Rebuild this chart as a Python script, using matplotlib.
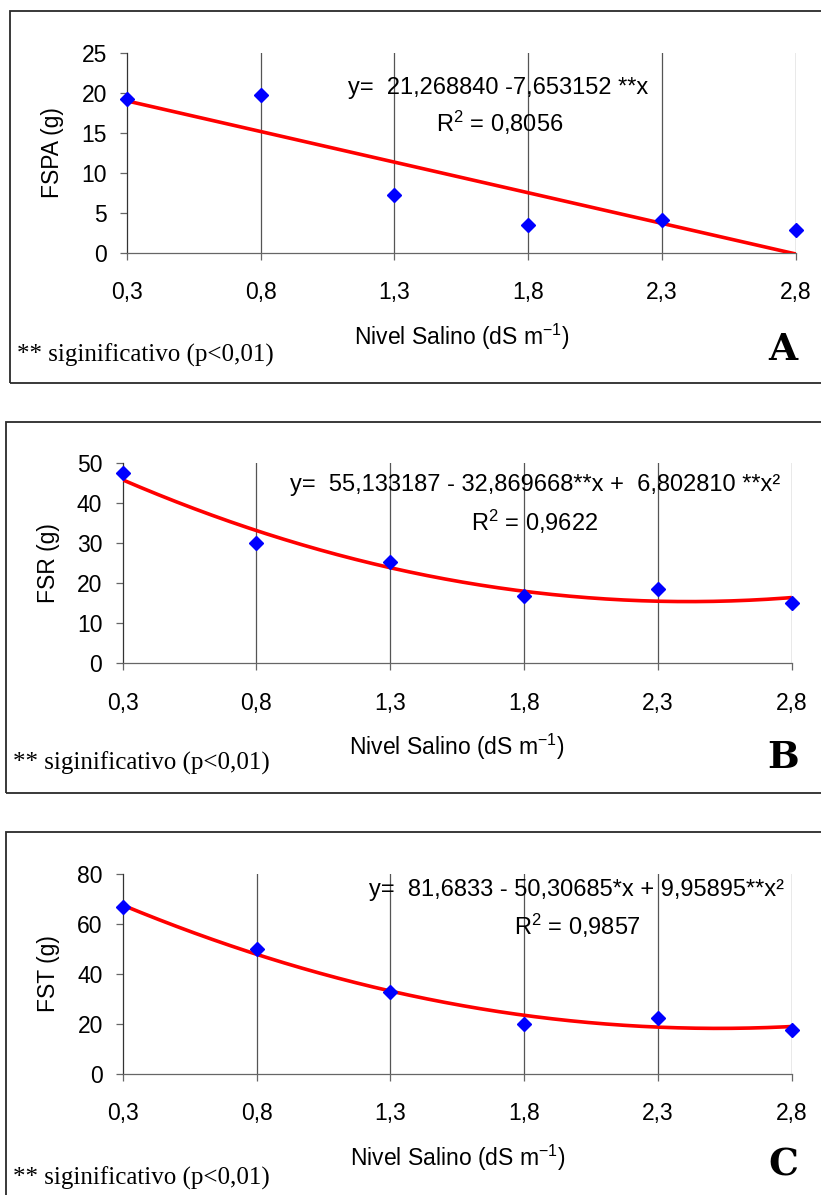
import numpy as np
import matplotlib
matplotlib.use("Agg")
import matplotlib.pyplot as plt
from matplotlib.patches import Rectangle

plt.rcParams['font.family'] = ['Liberation Sans', 'DejaVu Sans']
plt.rcParams['mathtext.fontset'] = 'custom'
plt.rcParams['mathtext.rm'] = 'Liberation Sans'
plt.rcParams['mathtext.it'] = 'Liberation Sans:italic'
plt.rcParams['mathtext.default'] = 'regular'

# ---------------- data ----------------
salinity = [0.3, 0.8, 1.3, 1.8, 2.3, 2.8]
x_tick_labels = ['0,3', '0,8', '1,3', '1,8', '2,3', '2,8']

fspa = [19.2, 19.7, 7.2, 3.5, 4.1, 2.8]
fsr = [47.5, 30.0, 25.4, 16.8, 18.5, 15.0]
fst = [66.9, 49.9, 32.7, 20.0, 22.3, 17.6]

coef_a = [21.268840, -7.653152]
coef_b = [55.133187, -32.869668, 6.802810]
coef_c = [81.6833, -50.30685, 9.95895]

yticks_a = [0, 5, 10, 15, 20, 25]
yticks_b = [0, 10, 20, 30, 40, 50]
yticks_c = [0, 20, 40, 60, 80]

ylabels = ['FSPA (g)', 'FSR (g)', 'FST (g)']
equations = ['y=  21,268840 -7,653152 **x',
             'y=  55,133187 - 32,869668**x +  6,802810 **x\u00b2',
             'y=  81,6833 - 50,30685*x + 9,95895**x\u00b2']
r2_texts = ['R$^2$ = 0,8056', 'R$^2$ = 0,9622', 'R$^2$ = 0,9857']
panel_letters = ['A', 'B', 'C']
xlabel_text = 'Nivel Salino (dS m$^{-1}$)'
note_text = '** siginificativo (p<0,01)'

# ---------------- layout (pixels) ----------------
W, H = 821, 1195
fig = plt.figure(figsize=(W / 100, H / 100), dpi=100)


def fx(px):
    return px / W


def fy(py):
    return 1 - py / H


panels = [
    dict(left=127, right=795.7, top=52.7, bottom=252.7,
         box=(10, 11, 383), eq=(498, 88), r2=(500, 123),
         letter=(783, 350), note=(17, 355), xl=337, ylx=52,
         y=fspa, coef=coef_a, yticks=yticks_a),
    dict(left=122.5, right=791.7, top=463.3, bottom=663.3,
         box=(6, 421.7, 792.7), eq=(535, 485), r2=(535, 522),
         letter=(783, 757), note=(13, 763), xl=747, ylx=48,
         y=fsr, coef=coef_b, yticks=yticks_b),
    dict(left=123, right=791.7, top=874, bottom=1073.7,
         box=(6, 831.7, 1215), eq=(576, 890), r2=(577, 926),
         letter=(783, 1165), note=(13, 1178), xl=1158, ylx=48,
         y=fst, coef=coef_c, yticks=yticks_c),
]

fs = 16.5
for i, p in enumerate(panels):
    bx, btop, bbot = p['box']
    fig.patches.append(Rectangle((fx(bx), fy(bbot)), (W + 20 - bx) / W,
                                 (bbot - btop) / H, transform=fig.transFigure,
                                 fill=False, edgecolor='#2a2a2a', lw=1.3,
                                 zorder=0))
    ax = fig.add_axes([fx(p['left']), fy(p['bottom']),
                       (p['right'] - p['left']) / W,
                       (p['bottom'] - p['top']) / H])
    ymax = p['yticks'][-1]
    ax.set_xlim(salinity[0], salinity[-1])
    ax.set_ylim(0, ymax)
    ax.set_xticks(salinity)
    ax.set_xticklabels(x_tick_labels)
    ax.set_yticks(p['yticks'])
    ax.set_yticklabels([str(v) for v in p['yticks']])
    for s in ['top', 'right']:
        ax.spines[s].set_visible(False)
    ax.spines['left'].set_color('#333333')
    ax.spines['bottom'].set_color('#666666')
    ax.spines['left'].set_linewidth(0.9)
    ax.spines['bottom'].set_linewidth(0.9)
    ax.tick_params(axis='x', direction='out', length=5, width=0.9,
                   color='#666666', pad=15.5, labelsize=fs)
    ax.tick_params(axis='y', direction='out', length=5, width=0.9,
                   color='#666666', pad=9.5, labelsize=fs)
    for xv in salinity[1:]:
        ax.axvline(xv, color='#555555', lw=0.9, zorder=1)

    xx = np.linspace(salinity[0], salinity[-1], 300)
    yy = np.polyval(p['coef'][::-1], xx)
    ax.plot(xx, yy, color='#ff0000', lw=2.6, zorder=3,
            solid_capstyle='butt')
    ax.plot(salinity, p['y'], linestyle='none', marker='D', markersize=7.5,
            color='#0000ff', markeredgecolor='#0000ff', zorder=4,
            clip_on=False)

    ax.set_xlabel(xlabel_text, fontsize=fs)
    ax.xaxis.set_label_coords(0.5, -(p['xl'] - p['bottom']) / 200)
    ax.xaxis.label.set_va('center')
    ax.set_ylabel(ylabels[i], fontsize=fs)
    ax.yaxis.set_label_coords((p['ylx'] - p['left']) / (p['right'] - p['left']),
                              0.503)
    ax.yaxis.label.set_va('center')

    fig.text(fx(p['eq'][0]), fy(p['eq'][1]), equations[i], fontsize=17,
             ha='center', va='center')
    fig.text(fx(p['r2'][0]), fy(p['r2'][1]), r2_texts[i], fontsize=17,
             ha='center', va='center')
    fig.text(fx(p['note'][0]), fy(p['note'][1]), note_text, fontsize=18,
             family=['Liberation Serif', 'DejaVu Serif'],
             ha='left', va='center')
    fig.text(fx(p['letter'][0]), fy(p['letter'][1]), panel_letters[i],
             fontsize=27, family=['DejaVu Serif'], fontweight='bold',
             ha='center', va='center')

fig.savefig('out.png', dpi=100)
